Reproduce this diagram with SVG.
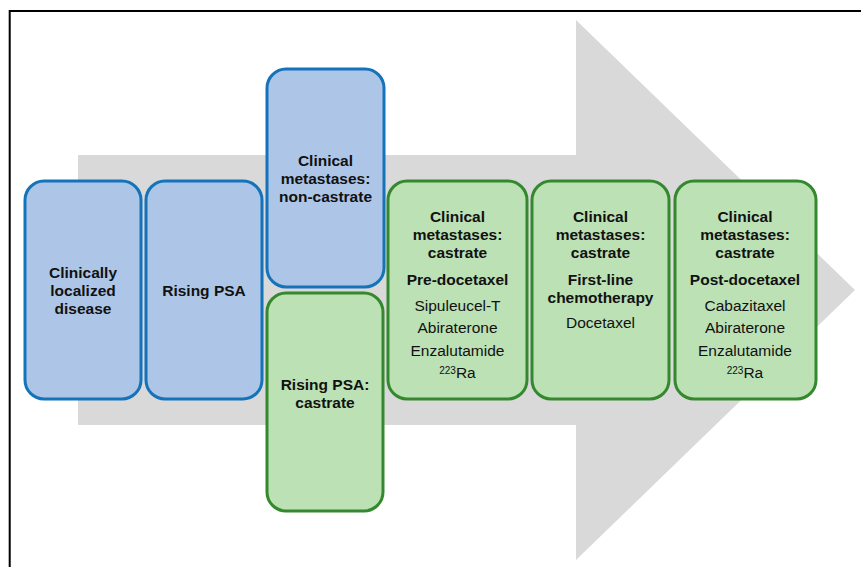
<svg xmlns="http://www.w3.org/2000/svg" width="861" height="567" viewBox="0 0 861 567">
  <style>
    .frame { fill: none; stroke: #000; stroke-width: 2; }
    .arrow { fill: #D9D9D9; }
    .blue { fill: #ADC6E8; stroke: #1573BA; stroke-width: 3; }
    .green { fill: #BCE1B5; stroke: #34892F; stroke-width: 3; }
    text { font-family: "Liberation Sans", Arial, sans-serif; font-size: 15.5px; fill: #111; text-anchor: middle; }
    .b { font-weight: bold; }
    .sup { font-size: 10px; }
  </style>

  <!-- outer frame -->
  <path class="frame" d="M9.7 567 V11 H861"/>

  <!-- background progression arrow -->
  <polygon class="arrow" points="78,155 576,155 576,20 855,290 576,560 576,425 78,425"/>

  <g id="connectors"/>

  <g id="localized">
    <rect class="blue" x="25" y="181" width="116" height="218" rx="19"/>
    <text class="b" x="83" y="278">Clinically</text>
    <text class="b" x="83" y="296">localized</text>
    <text class="b" x="83" y="314">disease</text>
  </g>

  <g id="rising-psa">
    <rect class="blue" x="146" y="181" width="116" height="218" rx="19"/>
    <text class="b" x="204" y="296">Rising PSA</text>
  </g>

  <g id="mets-noncastrate">
    <rect class="blue" x="267" y="69" width="117" height="218" rx="19"/>
    <text class="b" x="325.5" y="166">Clinical</text>
    <text class="b" x="325.5" y="184">metastases:</text>
    <text class="b" x="325.5" y="202">non-castrate</text>
  </g>

  <g id="rising-psa-castrate">
    <rect class="green" x="267" y="293" width="116" height="218" rx="19"/>
    <text class="b" x="325" y="390">Rising PSA:</text>
    <text class="b" x="325" y="408">castrate</text>
  </g>

  <g id="pre-docetaxel">
    <rect class="green" x="388" y="181" width="139" height="218" rx="19"/>
    <text class="b" x="457.5" y="222">Clinical</text>
    <text class="b" x="457.5" y="240">metastases:</text>
    <text class="b" x="457.5" y="258">castrate</text>
    <text class="b" x="457.5" y="285">Pre-docetaxel</text>
    <text x="457.5" y="311">Sipuleucel-T</text>
    <text x="457.5" y="333">Abiraterone</text>
    <text x="457.5" y="356">Enzalutamide</text>
    <text x="457.5" y="378"><tspan class="sup" dy="-4.5">223</tspan><tspan dy="4.5">Ra</tspan></text>
  </g>

  <g id="first-line">
    <rect class="green" x="532" y="181" width="137" height="218" rx="19"/>
    <text class="b" x="600.5" y="222">Clinical</text>
    <text class="b" x="600.5" y="240">metastases:</text>
    <text class="b" x="600.5" y="258">castrate</text>
    <text class="b" x="600.5" y="285">First-line</text>
    <text class="b" x="600.5" y="303">chemotherapy</text>
    <text x="600.5" y="328">Docetaxel</text>
  </g>

  <g id="post-docetaxel">
    <rect class="green" x="675" y="181" width="141" height="218" rx="19"/>
    <text class="b" x="745" y="222">Clinical</text>
    <text class="b" x="745" y="240">metastases:</text>
    <text class="b" x="745" y="258">castrate</text>
    <text class="b" x="745" y="285">Post-docetaxel</text>
    <text x="745" y="311">Cabazitaxel</text>
    <text x="745" y="333">Abiraterone</text>
    <text x="745" y="356">Enzalutamide</text>
    <text x="745" y="378"><tspan class="sup" dy="-4.5">223</tspan><tspan dy="4.5">Ra</tspan></text>
  </g>
</svg>
